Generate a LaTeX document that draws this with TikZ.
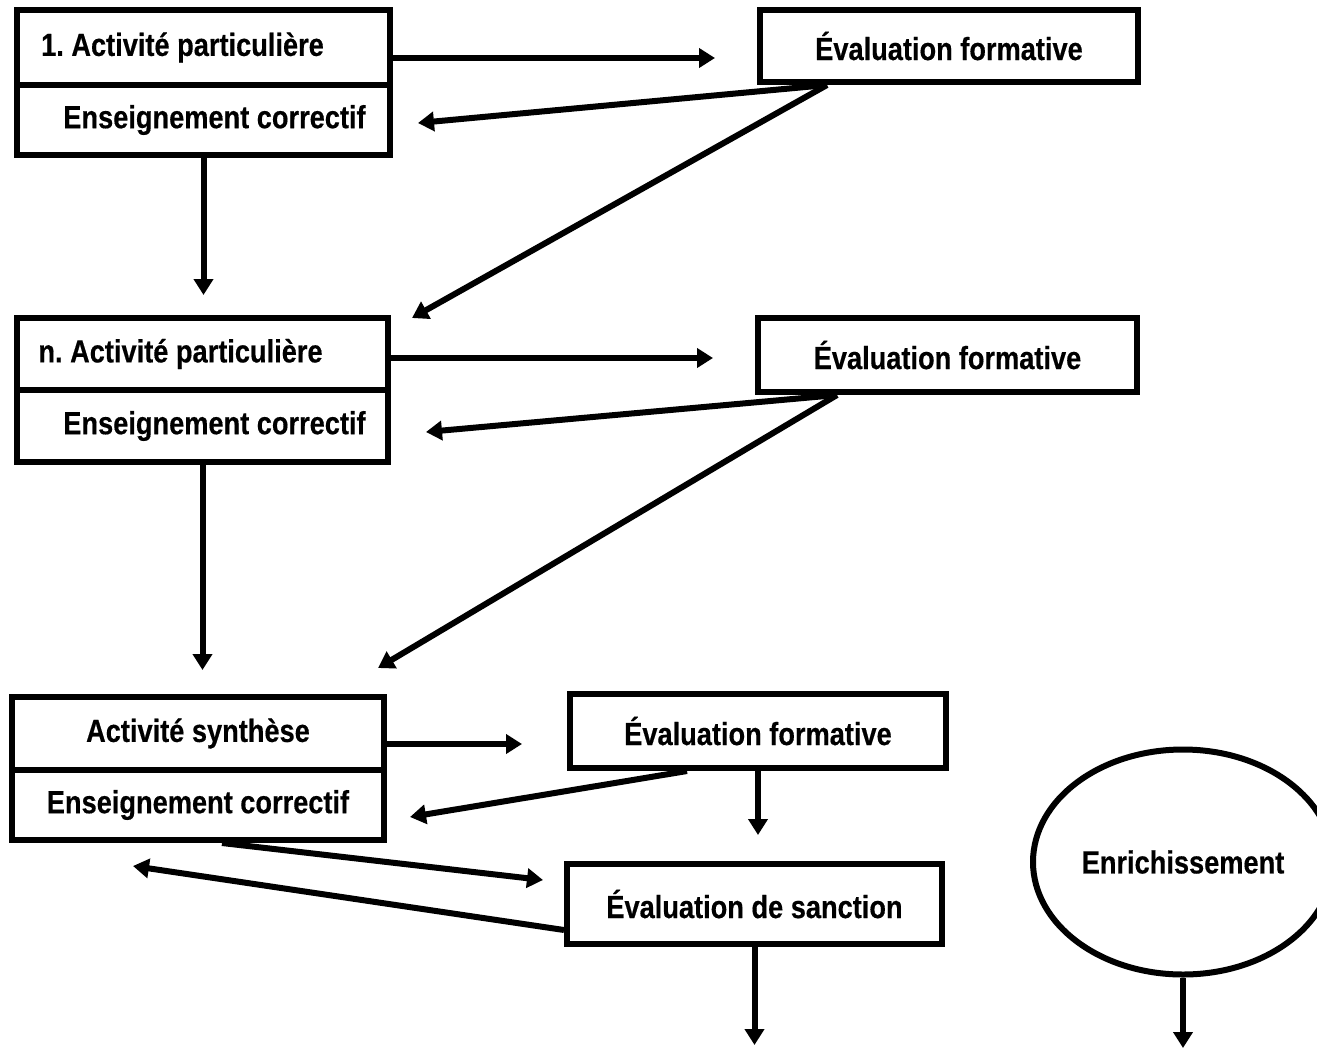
\documentclass[tikz,border=0pt]{standalone}
\usepackage{fontspec}
\setmainfont{Liberation Sans}[FakeStretch=0.85]
\usetikzlibrary{arrows.meta,shapes.geometric}

\tikzset{
	bloc/.style={draw, line width=3pt, inner sep=0pt, font=\fontsize{16}{19}\selectfont\bfseries\addfontfeatures{FakeBold=0.4}\frenchspacing},
	fleche/.style={line width=3pt, -{Triangle[length=8pt,width=9.5pt]}}
}

\begin{document}
\begin{tikzpicture}[x=0.5pt,y=-0.5pt]
				\useasboundingbox (0,0) rectangle (1317,1050);

				% premiere activite
				\node[bloc, minimum width=186.5pt, minimum height=37.5pt] (act1) at (203.5,47.5) {1. Activité particulière\kern21pt};
				\node[bloc, minimum width=186.5pt, minimum height=35pt] (cor1) at (203.5,120) {\kern11pt Enseignement correctif};
				\node[bloc, minimum width=189pt, minimum height=36pt] (ef1) at (949,46) {Évaluation formative};

				% activite n
				\node[bloc, minimum width=185.5pt, minimum height=36pt] (actn) at (202.5,354) {n. Activité particulière\kern22pt};
				\node[bloc, minimum width=185.5pt, minimum height=36pt] (corn) at (202.5,426) {\kern12pt Enseignement correctif};
				\node[bloc, minimum width=189.5pt, minimum height=37pt] (efn) at (947.5,355) {Évaluation formative};

				% synthese
				\node[bloc, minimum width=186pt, minimum height=36.5pt] (syn) at (198,733.5) {Activité synthèse};
				\node[bloc, minimum width=186pt, minimum height=35pt] (cors) at (198,805) {Enseignement correctif};
				\node[bloc, minimum width=188pt, minimum height=37pt] (ef3) at (758,731) {Évaluation formative};
				\node[bloc, minimum width=187.5pt, minimum height=40pt] (sanc) at (754.5,904) {Évaluation de sanction};
				\node[bloc, ellipse, minimum width=150pt, minimum height=112.5pt] (enr) at (1183,862) {Enrichissement};

				% bouts libres des fleches
				\coordinate (ef1in) at (715,58);
				\coordinate (cor1in) at (418,123);
				\coordinate (actnin) at (412,318);
				\coordinate (actntop) at (203.5,295);
				\coordinate (efnin) at (713,358);
				\coordinate (cornin) at (426,432);
				\coordinate (synin) at (378,668);
				\coordinate (syntop) at (202.5,670);
				\coordinate (ef3in) at (522,744);
				\coordinate (corsin) at (410,817);
				\coordinate (sancin) at (543,880);
				\coordinate (sanctop) at (758,835);
				\coordinate (retour) at (133,866);
				\coordinate (sancout) at (754.5,1045);
				\coordinate (enrout) at (1183,1048);

				\draw[fleche] (act1.east |- ef1in) -- (ef1in);
				\draw[fleche] ([xshift=35pt]ef1.south west) -- (cor1in);
				\draw[fleche] ([xshift=35pt]ef1.south west) -- (actnin);
				\draw[fleche] (cor1.south) -- (actntop);

				\draw[fleche] (actn.east |- efnin) -- (efnin);
				\draw[fleche] ([xshift=41pt]efn.south west) -- (cornin);
				\draw[fleche] ([xshift=41pt]efn.south west) -- (synin);
				\draw[fleche] (corn.south) -- (syntop);

				\draw[fleche] (syn.east |- ef3in) -- (ef3in);
				\draw[fleche] ([xshift=60pt]ef3.south west) -- (corsin);
				\draw[fleche] (ef3.south) -- (sanctop);
				\draw[fleche] ([xshift=12pt]cors.south) -- (sancin);
				\draw[fleche] ([yshift=-13pt]sanc.west) -- (retour);
				\draw[fleche] (sanc.south) -- (sancout);
				\draw[fleche] (enr.south) -- (enrout);
\end{tikzpicture}
\end{document}
